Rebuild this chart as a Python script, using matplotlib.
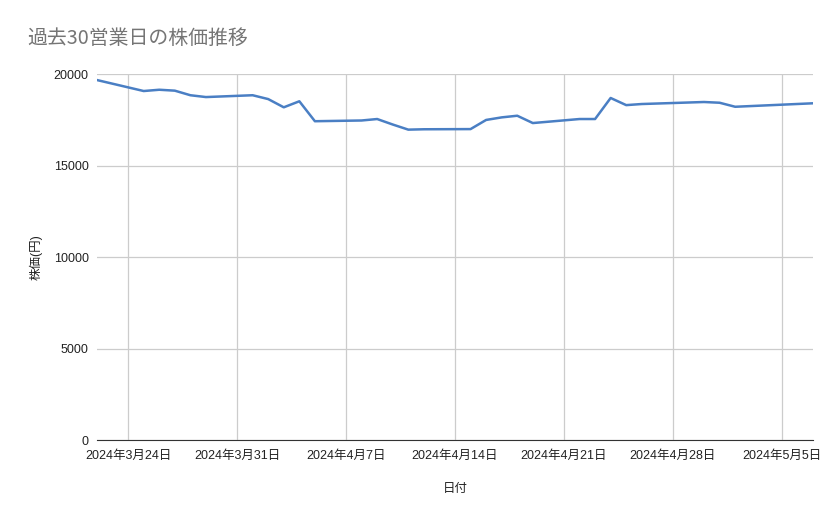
import datetime as dt
import matplotlib
matplotlib.use("Agg")
from matplotlib import pyplot as plt
import matplotlib.dates as mdates

plt.rcParams['font.family'] = ['Liberation Sans', 'Noto Sans CJK JP', 'DejaVu Sans']

# 営業日 (GW holidays 4/29, 5/3, 5/6 skipped)
dates = ["2024-03-22",
         "2024-03-25", "2024-03-26", "2024-03-27", "2024-03-28", "2024-03-29",
         "2024-04-01", "2024-04-02", "2024-04-03", "2024-04-04", "2024-04-05",
         "2024-04-08", "2024-04-09", "2024-04-10", "2024-04-11", "2024-04-12",
         "2024-04-15", "2024-04-16", "2024-04-17", "2024-04-18", "2024-04-19",
         "2024-04-22", "2024-04-23", "2024-04-24", "2024-04-25", "2024-04-26",
         "2024-04-30", "2024-05-01", "2024-05-02",
         "2024-05-07"]
prices = [19670,
          19070, 19140, 19090, 18840, 18740,
          18840, 18630, 18180, 18510, 17420,
          17460, 17540, 17240, 16960, 16980,
          16990, 17490, 17630, 17720, 17320,
          17540, 17540, 18690, 18300, 18360,
          18470, 18430, 18210,
          18400]
yticks = [0, 5000, 10000, 15000, 20000]

x = [dt.datetime.strptime(d, "%Y-%m-%d") for d in dates]

fig = plt.figure(figsize=(8.39, 5.19), dpi=100)
ax = fig.add_axes([0.1156, 0.1522, 0.8534, 0.7052])

ax.plot(x, prices, color='#4a7fc4', linewidth=1.8)

ax.set_xlim(x[0], x[-1])
ax.set_ylim(0, 20000)
ax.set_yticks(yticks)

ax.xaxis.set_major_locator(mdates.WeekdayLocator(byweekday=mdates.SU))
ax.set_xticks(ax.get_xticks())
ax.set_xticklabels([f"{mdates.num2date(t).year}年{mdates.num2date(t).month}月{mdates.num2date(t).day}日"
                    for t in ax.get_xticks()])

ax.grid(True, color='#cccccc', linewidth=0.9)
ax.set_axisbelow(True)
for s in ['top', 'right', 'left']:
    ax.spines[s].set_visible(False)
ax.spines['bottom'].set_color('#333333')
ax.tick_params(axis='both', length=0, labelsize=9, colors='#222222')
ax.tick_params(axis='x', pad=7)
ax.tick_params(axis='y', pad=6)

ax.set_xlabel("日付", fontsize=9, color='#222222', labelpad=15)
ax.set_ylabel("株価(円)", fontsize=9, color='#222222', labelpad=8)

fig.text(27/839, 1 - 38/519, "過去30営業日の株価推移", fontsize=14.3, color='#757575',
         va='center', ha='left', family=['Noto Sans CJK JP', 'DejaVu Sans'])

fig.savefig("out.png", dpi=100)
